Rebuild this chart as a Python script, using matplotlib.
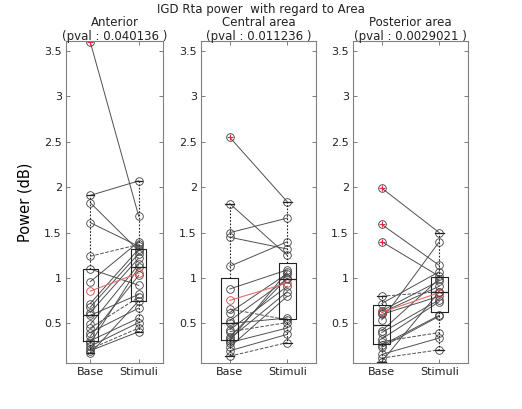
import numpy as np
import matplotlib.pyplot as plt
from matplotlib.ticker import FormatStrFormatter

# data (power in dB, one pair per subject)
areas = ["Anterior", "Central area", "Posterior area"]
pvals = ["0.040136", "0.011236", "0.0029021"]
conds = ["Base", "Stimuli"]

ant_base = [3.60, 1.91, 1.83, 1.61, 1.24, 1.10, 0.96, 0.72, 0.68, 0.62, 0.59,
            0.49, 0.45, 0.40, 0.36, 0.31, 0.28, 0.25, 0.22, 0.20, 0.17]
ant_stim = [1.68, 2.07, 1.30, 1.35, 1.37, 0.92, 1.40, 1.32, 1.27, 1.22, 0.82,
            1.15, 0.79, 0.67, 1.03, 0.56, 1.12, 0.51, 0.45, 0.41, 0.75]

cen_base = [2.55, 1.82, 1.50, 1.45, 1.13, 0.88, 0.66, 0.62, 0.53, 0.50,
            0.43, 0.41, 0.35, 0.33, 0.31, 0.29, 0.24, 0.20, 0.14]
cen_stim = [1.84, 1.25, 1.66, 1.32, 1.40, 1.09, 0.54, 1.05, 0.99, 0.56,
            0.91, 0.51, 1.00, 0.85, 1.07, 0.45, 0.80, 0.38, 0.29]

pos_base = [1.99, 1.59, 1.40, 0.80, 0.72, 0.64, 0.62, 0.60, 0.54,
            0.42, 0.40, 0.33, 0.30, 0.26, 0.24, 0.16, 0.12, 0.08]
pos_stim = [1.50, 1.14, 1.02, 0.85, 1.07, 0.97, 0.91, 0.80, 1.40,
            0.99, 0.76, 0.74, 0.40, 0.59, 0.58, 0.34, 0.21, 0.85]

data = [(ant_base, ant_stim), (cen_base, cen_stim), (pos_base, pos_stim)]
# which subject lines are drawn dashed
dashed = [[4, 12, 18], [6, 11, 18], [3, 12, 16]]

fig = plt.figure(figsize=(5.22, 4.09), dpi=100)
W, H = 522, 409
boxes = [(66, 97), (201, 115), (353, 115)]  # left, width in px
top, bot = 41, 363

fig.suptitle("IGD Rta power  with regard to Area", y=1 - 9 / H, va="center",
             fontsize=8.5, color="#222222")

for k in range(3):
    left, wid = boxes[k]
    ax = fig.add_axes([left / W, (H - bot) / H, wid / W, (bot - top) / H])
    b, s = data[k]
    for i in range(len(b)):
        ls = "--" if i in dashed[k] else "-"
        ax.plot([1, 2], [b[i], s[i]], color="#505050", lw=0.7, ls=ls,
                marker="o", ms=5.5, mfc="none", mec="#404040", mew=0.6)
    ax.boxplot([b, s], positions=[1, 2], widths=0.3, whis=1.5,
               boxprops=dict(color="#222222", lw=0.8),
               medianprops=dict(color="#222222", lw=0.9),
               whiskerprops=dict(color="#222222", lw=0.8, ls=(0, (1.5, 1.5))),
               capprops=dict(color="#222222", lw=0.9),
               flierprops=dict(marker="+", mec="#e03030", ms=5, mew=0.8))
    ax.plot([1, 2], [np.mean(b), np.mean(s)], color="#e07070", lw=0.8,
            marker="o", ms=5.5, mfc="none", mec="#e04040", mew=0.6)

    ax.set_xlim(0.5, 2.5)
    ax.set_ylim(0.065, 3.61)
    ax.set_xticks([1, 2])
    ax.set_xticklabels(conds, fontsize=8)
    ax.set_yticks(np.arange(0.5, 3.6, 0.5))
    ax.yaxis.set_major_formatter(FormatStrFormatter("%g"))
    ax.tick_params(direction="in", length=3, width=0.6, color="#666666",
                   labelsize=8, labelcolor="#222222", top=True, right=True,
                   pad=3)
    for sp in ax.spines.values():
        sp.set_color("#808080")
        sp.set_linewidth(0.8)
    ax.set_title(areas[k] + "\n(pval : " + pvals[k] + " )", fontsize=8.5,
                 pad=1, linespacing=1.1, color="#222222")
    if k == 0:
        ax.set_ylabel("Power (dB)", fontsize=10.5, labelpad=8)

fig.savefig("out.png", dpi=100)
